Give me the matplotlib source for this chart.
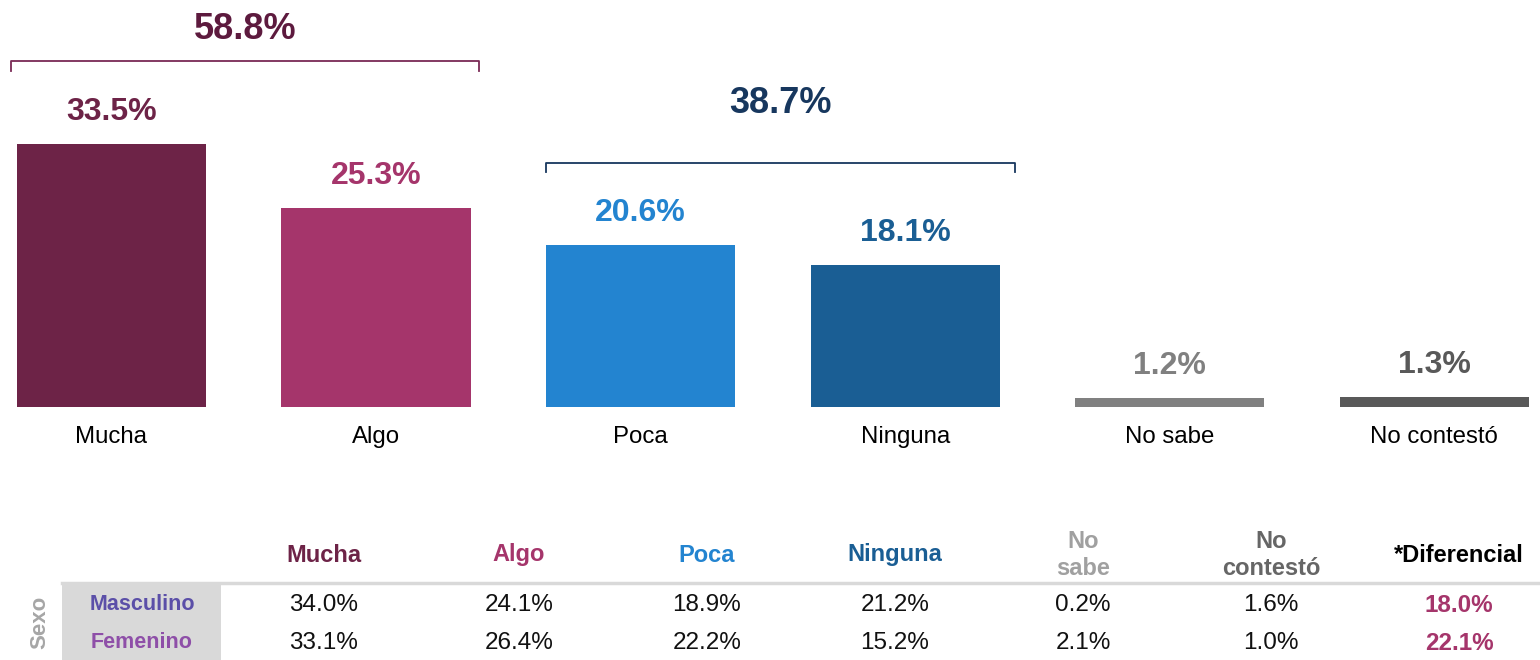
import numpy as np
import matplotlib
matplotlib.use("Agg")
import matplotlib.pyplot as plt
from matplotlib.patches import Rectangle

plt.rcParams['font.family'] = ['Liberation Sans', 'DejaVu Sans']

# datos
categorias = ['Mucha', 'Algo', 'Poca', 'Ninguna', 'No sabe', 'No contestó']
valores = [33.5, 25.3, 20.6, 18.1, 1.2, 1.3]
colores = ['#6d2347', '#a5356b', '#2384d0', '#1a5e94', '#808080', '#595959']

grupos = [(0, 1), (2, 3)]
grupo_colores = ['#5d1a3e', '#17375e']
linea_colores = ['#7a2a55', '#17375e']

encabezados = ['Mucha', 'Algo', 'Poca', 'Ninguna', 'No\nsabe', 'No\ncontestó', '*Diferencial']
enc_colores = ['#6d2347', '#a5356b', '#2384d0', '#1a5e94', '#a0a0a0', '#666666', '#000000']
filas = ['Masculino', 'Femenino']
fila_colores = ['#5b4fa8', '#8e4fa8']
masculino = [34.0, 24.1, 18.9, 21.2, 0.2, 1.6]
femenino = [33.1, 26.4, 22.2, 15.2, 2.1, 1.0]
diferencial = [18.0, 22.1]

W, H = 1540, 660
fig = plt.figure(figsize=(W / 100, H / 100), dpi=100)

# barras
base = 407
ax = fig.add_axes([0, (H - base) / H, 1, base / H])
x = np.arange(len(categorias))
ax.bar(x, valores, width=0.715, color=colores)
ax.set_xlim(-0.421, 5.399)
ax.set_ylim(0, 51.8)
for s in ax.spines.values():
    s.set_visible(False)
ax.set_yticks([])
ax.set_xticks(x, categorias, fontsize=17.3)
ax.tick_params(axis='x', length=0, pad=14)

for xi, v, c in zip(x, valores, colores):
    ax.annotate(f'{v:.1f}%', (xi, v), xytext=(0, 23), textcoords='offset points',
                ha='center', va='center', fontsize=23, fontweight='bold', color=c)

# llaves de los grupos
txt_off = [4.1, 7.5]
extremos = [(-0.38, 0.39), (-0.358, 0.415)]
for (a, b), gc, lc, off, (e0, e1) in zip(grupos, grupo_colores, linea_colores, txt_off, extremos):
    top = max(valores[a:b + 1]) + 10.5
    x0, x1 = a + e0, b + e1
    ax.plot([x0, x0, x1, x1], [top - 1.2, top, top, top - 1.2], color=lc, lw=1.3,
            clip_on=False)
    total = sum(valores[a:b + 1])
    ax.text((x0 + x1) / 2, top + off, f'{total:.1f}%', ha='center', va='center',
            fontsize=26, fontweight='bold', color=gc)

# tabla
tx = fig.add_axes([0, 0, 1, 1])
tx.set_xlim(0, W)
tx.set_ylim(H, 0)
tx.axis('off')

col_x = [324, 519, 707, 895, 1083, 1271, 1459]
y_enc, y_filas = 555, [605, 643]

for cx, t, c in zip(col_x, encabezados, enc_colores):
    tx.text(cx, y_enc, t, ha='center', va='center', fontsize=17, fontweight='bold',
            color=c, linespacing=1.25)
tx.plot([62, W], [583, 583], color='#d9d9d9', lw=2.5)
tx.add_patch(Rectangle((62, 585), 159, 75, color='#d9d9d9', lw=0))
tx.text(40, 622, 'Sexo', rotation=90, ha='center', va='center', fontsize=16,
        fontweight='bold', color='#a6a6a6')

for yy, nom, fc, vals, d in zip(y_filas, filas, fila_colores, [masculino, femenino], diferencial):
    tx.text(142, yy, nom, ha='center', va='center', fontsize=15.5, fontweight='bold', color=fc)
    for cx, v in zip(col_x[:-1], vals):
        tx.text(cx, yy, f'{v:.1f}%', ha='center', va='center', fontsize=17.5, color='#111111')
    tx.text(col_x[-1], yy, f'{d:.1f}%', ha='center', va='center', fontsize=17.5,
            fontweight='bold', color='#a5356b')

fig.savefig('out.png', dpi=100, facecolor='white')
